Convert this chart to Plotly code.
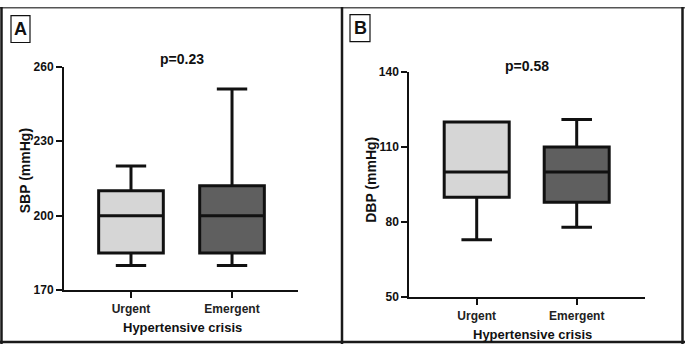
import plotly.graph_objects as go

W, H = 685, 351
categories = ["Urgent", "Emergent"]
fills = ["#d6d6d6", "#5f5f5f"]

# Panel A: SBP
sbp_low = [180, 180]
sbp_q1 = [185, 185]
sbp_med = [200, 200]
sbp_q3 = [210, 212]
sbp_high = [220, 251]
sbp_ticks = [170, 200, 230, 260]

# Panel B: DBP
dbp_low = [73, 78]
dbp_q1 = [90, 88]
dbp_med = [100, 100]
dbp_q3 = [120, 110]
dbp_high = [120, 121]
dbp_ticks = [50, 80, 110, 140]

FONT = "Liberation Sans, Arial, sans-serif"

fig = go.Figure()

def add_boxes(lo, q1, med, q3, hi, xa, ya, width):
    for i, c in enumerate(categories):
        fig.add_trace(go.Box(
            x=[c], q1=[q1[i]], median=[med[i]], q3=[q3[i]],
            lowerfence=[lo[i]], upperfence=[hi[i]],
            fillcolor=fills[i], line=dict(color="#111111", width=3),
            whiskerwidth=0.47, width=width, boxpoints=False,
            xaxis=xa, yaxis=ya, showlegend=False, hoverinfo="skip"))

add_boxes(sbp_low, sbp_q1, sbp_med, sbp_q3, sbp_high, "x", "y", 0.64)
add_boxes(dbp_low, dbp_q1, dbp_med, dbp_q3, dbp_high, "x2", "y2", 0.65)

tickfont = dict(family=FONT, size=12, color="#111111", weight="bold")
common_x = dict(type="category", categoryorder="array", categoryarray=categories,
                showline=True, linecolor="#111111", linewidth=2, ticks="outside",
                ticklen=6, tickwidth=2, tickcolor="#111111", showgrid=False,
                zeroline=False, tickfont=dict(family=FONT, size=12, color="#222222", weight="bold"))
common_y = dict(showline=True, linecolor="#111111", linewidth=2, ticks="outside",
                ticklen=6, tickwidth=2, tickcolor="#111111", showgrid=False,
                zeroline=False, tickfont=tickfont)

fig.update_layout(
    width=W, height=H, margin=dict(l=0, r=0, t=0, b=0),
    paper_bgcolor="white", plot_bgcolor="white", boxmode="overlay",
    font=dict(family=FONT, color="#111111"),
    xaxis=dict(domain=[64/W, 298/W], range=[-0.663, 1.653], anchor="y", **common_x),
    yaxis=dict(domain=[1-295/H, 1-62/H], range=[170, 260], tickvals=sbp_ticks,
               anchor="x", **common_y),
    xaxis2=dict(domain=[409.3/W, 645/W], range=[-0.674, 1.683], anchor="y2", **common_x),
    yaxis2=dict(domain=[1-302.3/H, 1-67.7/H], range=[50, 140], tickvals=dbp_ticks,
                anchor="x2", **common_y),
)

def ann(text, x, y, size, angle=0):
    fig.add_annotation(text=f"<b>{text}</b>", x=x/W, y=1-y/H, xref="paper", yref="paper",
                       showarrow=False, textangle=angle, xanchor="center", yanchor="middle",
                       font=dict(family=FONT, size=size, color="#111111"))

ann("p=0.23", 182, 54, 14)
ann("p=0.58", 527, 61, 14)
ann("SBP (mmHg)", 25, 170, 14, -90)
ann("DBP (mmHg)", 371, 180, 14, -90)
ann("Hypertensive crisis", 182, 334, 13)
ann("Hypertensive crisis", 532, 341, 13)
ann("A", 20.5, 23, 18)
ann("B", 360, 22, 18)

shapes = []
def line(x0, y0, x1, y1, w=2, col="#1a1a1a"):
    shapes.append(dict(type="line", xref="paper", yref="paper", x0=x0/W, y0=1-y0/H,
                       x1=x1/W, y1=1-y1/H, line=dict(color=col, width=w)))
def rect(x0, y0, x1, y1, w=1.2):
    shapes.append(dict(type="rect", xref="paper", yref="paper", x0=x0/W, y0=1-y0/H,
                       x1=x1/W, y1=1-y1/H, line=dict(color="#111111", width=w)))

line(0, 0.7, 685, 0.7, 1.5, "#555555")
line(1.5, 0, 1.5, 351, 2.5)
line(342, 0, 342, 351, 2.5)
line(682.5, 0, 682.5, 351, 2.5)
line(0, 349, 685, 349, 2.5)
rect(11, 9, 30, 37)
rect(350, 8, 370, 36)
fig.update_layout(shapes=shapes)

fig.write_html("out.html")
